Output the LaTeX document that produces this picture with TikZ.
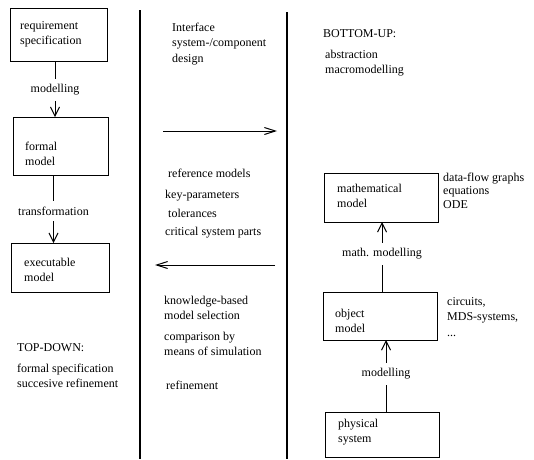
\documentclass[tikz,border=0pt]{standalone}
\usepackage{fontspec}
\setmainfont{Liberation Serif}
\usetikzlibrary{arrows.meta}
\tikzset{
  box/.style={draw, line width=1pt, inner sep=0pt, outer sep=0pt},
  txt/.style={anchor=base west, align=left, inner sep=0pt, font={\fontsize{12}{15.5}\selectfont}},
  lbl/.style={inner xsep=2pt, inner ysep=6pt, outer sep=0pt, font={\fontsize{12}{14}\selectfont}},
  conn/.style={line width=1pt},
  arr/.style={line width=1pt, -{Straight Barb[length=9pt,width=9pt,line width=1pt]}},
  harr/.style={line width=1pt, -{Straight Barb[length=11pt,width=7pt,line width=1pt]}},
  sep/.style={line width=2pt}
}
\begin{document}
\begin{tikzpicture}[x=1pt,y=-1pt]
\useasboundingbox (0,0) rectangle (534,459);
% separators
\coordinate (s1t) at (140,10);
\coordinate (s1b) at (140,459);
\coordinate (s2t) at (287,12);
\coordinate (s2b) at (287,459);
\draw[sep] (s1t) -- (s1b);
\draw[sep] (s2t) -- (s2b);

% left column
\node[box, minimum width=97pt, minimum height=53pt] (req) at (58.5,34.5) {};
\node[txt] (reqt) at (20,44.5) {requirement\\specification};
\node[lbl] (l1) at (55,90) {modelling};
\node[box, minimum width=95pt, minimum height=58pt] (formal) at (60.5,146) {};
\node[txt] (formalt) at (25,165.5) {formal\\model};
\node[lbl] (l2) at (53.5,211) {transformation};
\node[box, minimum width=98pt, minimum height=49pt] (exec) at (60,267.5) {};
\node[txt] (exect) at (24,281.5) {executable\\model};
\draw[conn] (l1 |- req.south) -- (l1.north);
\draw[arr] (l1.south) -- (l1 |- formal.north);
\draw[conn] (l2 |- formal.south) -- (l2.north);
\draw[arr] (l2.south) -- (l2 |- exec.north);

\node[txt] (td) at (17,351) {TOP-DOWN:};
\node[txt] (tdt) at (17,387.5) {formal specification\\succesive refinement};

% middle column
\node[txt] (ifc) at (172,62) {Interface\\system-/component\\design};
\coordinate (ra1) at (163,131);
\coordinate (ra2) at (277,131);
\draw[harr] (ra1) -- (ra2);
\node[txt] (refm) at (168,177) {reference models};
\node[txt] (keyp) at (165,198) {key-parameters};
\node[txt] (tol) at (168,217) {tolerances};
\node[txt] (crit) at (165,235) {critical system parts};
\coordinate (la1) at (275,265);
\coordinate (la2) at (155,265);
\draw[harr] (la1) -- (la2);
\node[txt] (kb) at (164,319.5) {knowledge-based\\model selection};
\node[txt] (cmp) at (164,355.5) {comparison by\\means of simulation};
\node[txt] (ref) at (166,389) {refinement};

% right column
\node[txt] (bu) at (323,37) {BOTTOM-UP:};
\node[txt] (abs) at (325,73.5) {abstraction\\macromodelling};
\node[box, minimum width=114pt, minimum height=49pt] (math) at (381,197.5) {};
\node[txt] (matht) at (337,207.5) {mathematical\\model};
\node[txt, font={\fontsize{12}{13.5}\selectfont}] (dfg) at (443,208) {data-flow graphs\\equations\\ODE};
\node[lbl] (l3) at (382,254) {math. modelling};
\node[box, minimum width=114pt, minimum height=48pt] (obj) at (380,316) {};
\node[txt] (objt) at (335,332.5) {object\\model};
\node[txt] (circ) at (447,336) {circuits,\\MDS-systems,\\...};
\node[lbl] (l4) at (386,374) {modelling};
\node[box, minimum width=114pt, minimum height=45pt] (phys) at (382,434.5) {};
\node[txt] (physt) at (338,442.5) {physical\\system};
\draw[conn] (l3 |- obj.north) -- (l3.south);
\draw[arr] (l3.north) -- (l3 |- math.south);
\draw[conn] (l4 |- phys.north) -- (l4.south);
\draw[arr] (l4.north) -- (l4 |- obj.south);
\end{tikzpicture}
\end{document}
